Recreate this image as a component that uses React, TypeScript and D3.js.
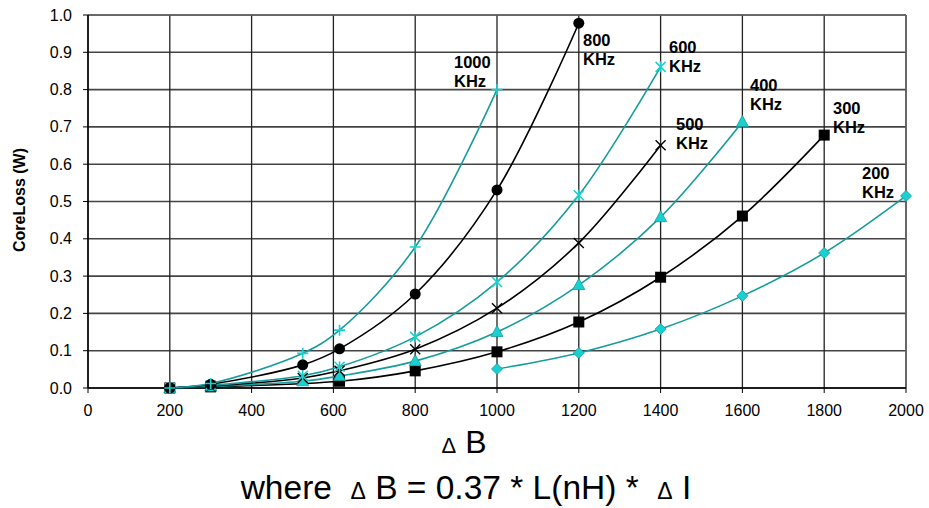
import React from "react";
import * as d3 from "d3";

const xTicks = [0, 200, 400, 600, 800, 1000, 1200, 1400, 1600, 1800, 2000];
const yTicks = [0, 0.1, 0.2, 0.3, 0.4, 0.5, 0.6, 0.7, 0.8, 0.9, 1.0];

const x1000 = [200, 300, 525, 615, 800, 1000];
const y1000 = [0.0, 0.012, 0.093, 0.155, 0.378, 0.8];
const x800 = [200, 300, 525, 615, 800, 1000, 1200];
const y800 = [0.0, 0.01, 0.062, 0.105, 0.252, 0.531, 0.978];
const x600 = [200, 300, 525, 615, 800, 1000, 1200, 1400];
const y600 = [0.0, 0.007, 0.033, 0.057, 0.137, 0.284, 0.517, 0.861];
const x500 = [200, 300, 525, 615, 800, 1000, 1200, 1400];
const y500 = [0.0, 0.005, 0.027, 0.046, 0.104, 0.214, 0.389, 0.651];
const x400 = [200, 300, 525, 615, 800, 1000, 1200, 1400, 1600];
const y400 = [0.0, 0.004, 0.018, 0.032, 0.072, 0.15, 0.276, 0.458, 0.713];
const x300 = [200, 300, 615, 800, 1000, 1200, 1400, 1600, 1800];
const y300 = [0.0, 0.003, 0.018, 0.046, 0.097, 0.177, 0.297, 0.461, 0.678];
const x200 = [1000, 1200, 1400, 1600, 1800, 2000];
const y200 = [0.051, 0.094, 0.158, 0.247, 0.362, 0.515];

const labels = ["1000", "800", "600", "500", "400", "300", "200"];
const labelX = [454, 583, 669, 676, 750, 833, 862];
const labelY = [68, 46, 53, 130, 91, 114, 179];

const TEAL = "#169c9c";
const CYAN = "#19d0d0";

type Series = { xs: number[]; ys: number[]; color: string; marker: string };

const series: Series[] = [
  { xs: x200, ys: y200, color: TEAL, marker: "diamond" },
  { xs: x300, ys: y300, color: "#000", marker: "square" },
  { xs: x400, ys: y400, color: TEAL, marker: "triangle" },
  { xs: x500, ys: y500, color: "#000", marker: "x" },
  { xs: x600, ys: y600, color: TEAL, marker: "asterisk" },
  { xs: x800, ys: y800, color: "#000", marker: "circle" },
  { xs: x1000, ys: y1000, color: TEAL, marker: "plus" },
];

const L = 88, R = 906, T = 15, B = 388;

function Marker({ type, cx, cy }: { type: string; cx: number; cy: number }) {
  const s = 5.5;
  switch (type) {
    case "diamond":
      return <path d={`M${cx},${cy - s}L${cx + s},${cy}L${cx},${cy + s}L${cx - s},${cy}Z`} fill={CYAN} stroke={TEAL} strokeWidth={0.8} />;
    case "square":
      return <rect x={cx - 5.5} y={cy - 5.5} width={11} height={11} fill="#000" />;
    case "triangle":
      return <path d={`M${cx},${cy - 6.5}L${cx + 6},${cy + 4.5}L${cx - 6},${cy + 4.5}Z`} fill={CYAN} stroke={TEAL} strokeWidth={0.8} />;
    case "x":
      return <path d={`M${cx - 5},${cy - 5}L${cx + 5},${cy + 5}M${cx - 5},${cy + 5}L${cx + 5},${cy - 5}`} stroke="#000" strokeWidth={1.4} />;
    case "asterisk":
      return <path d={`M${cx - 5},${cy - 5}L${cx + 5},${cy + 5}M${cx - 5},${cy + 5}L${cx + 5},${cy - 5}M${cx},${cy - 5.5}L${cx},${cy + 5.5}`} stroke={CYAN} strokeWidth={1.5} />;
    case "circle":
      return <circle cx={cx} cy={cy} r={5.5} fill="#000" />;
    case "plus":
      return <path d={`M${cx - 5.5},${cy}L${cx + 5.5},${cy}M${cx},${cy - 5.5}L${cx},${cy + 5.5}`} stroke={CYAN} strokeWidth={1.7} />;
  }
  return null;
}

export default function App() {
  const x = d3.scaleLinear().domain([0, 2000]).range([L, R]);
  const y = d3.scaleLinear().domain([0, 1]).range([B, T]);
  const line = d3
    .line<[number, number]>()
    .x((d) => x(d[0]))
    .y((d) => y(d[1]))
    .curve(d3.curveCatmullRom.alpha(0.5));
  const font = "Arial, 'Liberation Sans', sans-serif";

  return (
    <svg width={929} height={508} style={{ position: "absolute", left: 0, top: 0, background: "#fff" }} fontFamily={font}>
      <rect x={0} y={0} width={929} height={508} fill="#fff" />
      {yTicks.map((t) => (
        <line key={"h" + t} x1={L} x2={R} y1={y(t)} y2={y(t)} stroke="#444" strokeWidth={1.6} />
      ))}
      {xTicks.map((t) => (
        <line key={"v" + t} x1={x(t)} x2={x(t)} y1={T} y2={B} stroke="#222" strokeWidth={1.3} />
      ))}
      <line x1={R} x2={R} y1={T} y2={B} stroke="#666" strokeWidth={1.6} />
      <line x1={L} x2={R} y1={T} y2={T} stroke="#666" strokeWidth={1.6} />
      <line x1={L} x2={L} y1={T} y2={B} stroke="#000" strokeWidth={1.4} />
      <line x1={L} x2={R} y1={B} y2={B} stroke="#000" strokeWidth={1.4} />
      {yTicks.map((t) => (
        <g key={"yt" + t}>
          <line x1={L - 5} x2={L} y1={y(t)} y2={y(t)} stroke="#000" strokeWidth={1} />
          <text x={72} y={y(t) + 5.5} textAnchor="end" fontSize={16}>
            {t.toFixed(1)}
          </text>
        </g>
      ))}
      {xTicks.map((t) => (
        <g key={"xt" + t}>
          <line x1={x(t)} x2={x(t)} y1={B} y2={B + 5} stroke="#000" strokeWidth={1} />
          <text x={x(t)} y={416} textAnchor="middle" fontSize={16}>
            {t}
          </text>
        </g>
      ))}
      {series.map((s, i) => (
        <path
          key={"l" + i}
          d={line(s.xs.map((v, j) => [v, s.ys[j]] as [number, number])) || ""}
          fill="none"
          stroke={s.color}
          strokeWidth={1.6}
        />
      ))}
      {series.map((s, i) => (
        <g key={"m" + i}>
          {s.xs.map((v, j) => (
            <Marker key={j} type={s.marker} cx={x(v)} cy={y(s.ys[j])} />
          ))}
        </g>
      ))}
      {labels.map((lab, i) => (
        <text key={"lab" + i} x={labelX[i]} y={labelY[i]} fontSize={16.5} fontWeight="bold">
          <tspan x={labelX[i]}>{lab}</tspan>
          <tspan x={labelX[i]} dy={19}>KHz</tspan>
        </text>
      ))}
      <text transform="translate(25,200) rotate(-90)" textAnchor="middle" fontSize={16} fontWeight="bold">
        CoreLoss (W)
      </text>
      <text x={464} y={453} textAnchor="middle" fontSize={32} style={{ whiteSpace: "pre" }}>
        <tspan fontSize={22}>Δ</tspan> B
      </text>
      <text x={466} y={499} textAnchor="middle" fontSize={33.5} style={{ whiteSpace: "pre" }}>
        {"where  "}<tspan fontSize={23}>Δ</tspan>{" B = 0.37 * L(nH) *  "}<tspan fontSize={23}>Δ</tspan>{" I"}
      </text>
    </svg>
  );
}
